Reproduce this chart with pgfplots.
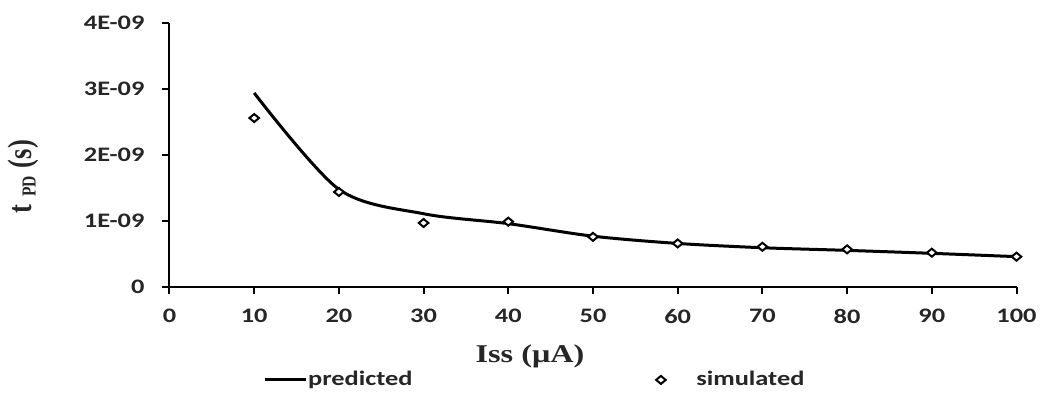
\documentclass[border=0pt]{standalone}
\usepackage{pgfplots}
\pgfplotsset{compat=1.18}
\usepackage{fontspec}
\setmainfont{Carlito}[FakeStretch=1.28]
\newfontfamily\serifb{Liberation Serif}[FakeStretch=1.26]
\newfontfamily\serifr{Liberation Serif}
\begin{document}
\begin{tikzpicture}[x=1pt,y=1pt]
\path[use as bounding box] (0,0) rectangle (520.5,198.5);
\begin{axis}[
  at={(84.75pt,55pt)}, anchor=south west,
  scale only axis, width=423.5pt, height=132pt,
  xmin=0, xmax=100, ymin=0, ymax=4e-9,
  axis lines=left, axis line style={-, line width=1pt, black},
  xtick={0,10,...,100},
  ytick={0,1e-9,2e-9,3e-9,4e-9},
  yticklabels={0,1E-09,2E-09,3E-09,4E-09},
  scaled y ticks=false,
  tick align=outside, major tick length=3.5pt,
  tick style={line width=1pt, black},
  ticklabel style={font=\bfseries\fontsize{10.3}{12}\selectfont, text=black!85},
  xticklabel style={yshift=-4pt},
  yticklabel style={xshift=-5.5pt},
  /pgf/number format/assume math mode=true,
  clip=false,
  xlabel={\serifb\bfseries\fontsize{12.8}{14}\selectfont Iss (μA)},
  xlabel style={at={(axis description cs:0.4256,-0.261)}, anchor=center, text=black!85},
  ylabel={\scalebox{1}[1.27]{\serifr\bfseries{\fontsize{13.3}{15}\selectfont t}\hspace{4pt}\raisebox{-1.5pt}{\fontsize{7.8}{9}\selectfont PD}\hspace{4pt}{\fontsize{13.3}{15}\selectfont (s)}}},
  ylabel style={at={(axis description cs:-0.172,0.417)}, anchor=center, text=black!85},
  legend columns=2,
  legend style={draw=none, fill=none, at={(axis description cs:0.103,-0.352)}, anchor=west,
    font=\bfseries\fontsize{10.3}{12}\selectfont, text=black!85, nodes={inner xsep=0.5pt}},
]
\addplot[black, line width=1.5pt, smooth,
  legend image code/.code={\draw[black, line width=1.5pt] (0pt,0pt) -- (20.5pt,0pt);}]
  coordinates {(10,2.94e-9) (20,1.48e-9) (30,1.11e-9) (40,0.96e-9) (50,0.77e-9)
               (60,0.66e-9) (70,0.595e-9) (80,0.555e-9) (90,0.51e-9) (100,0.46e-9)};
\addlegendentry{predicted\hspace*{121pt}}
\addplot[only marks, mark=diamond*, mark size=2pt,
  mark options={fill=white, draw=black, line width=1pt, xscale=1.6},
  legend image code/.code={\draw[mark=diamond*, mark size=2pt, mark options={fill=white, draw=black, line width=1pt, xscale=1.6}] plot coordinates {(2.5pt,0pt)}; \path (0pt,0pt) (19.5pt,0pt);}]
  coordinates {(10,2.56e-9) (20,1.44e-9) (30,0.97e-9) (40,0.99e-9) (50,0.76e-9)
               (60,0.66e-9) (70,0.61e-9) (80,0.57e-9) (90,0.52e-9) (100,0.46e-9)};
\addlegendentry{simulated}
\end{axis}
\end{tikzpicture}
\end{document}
